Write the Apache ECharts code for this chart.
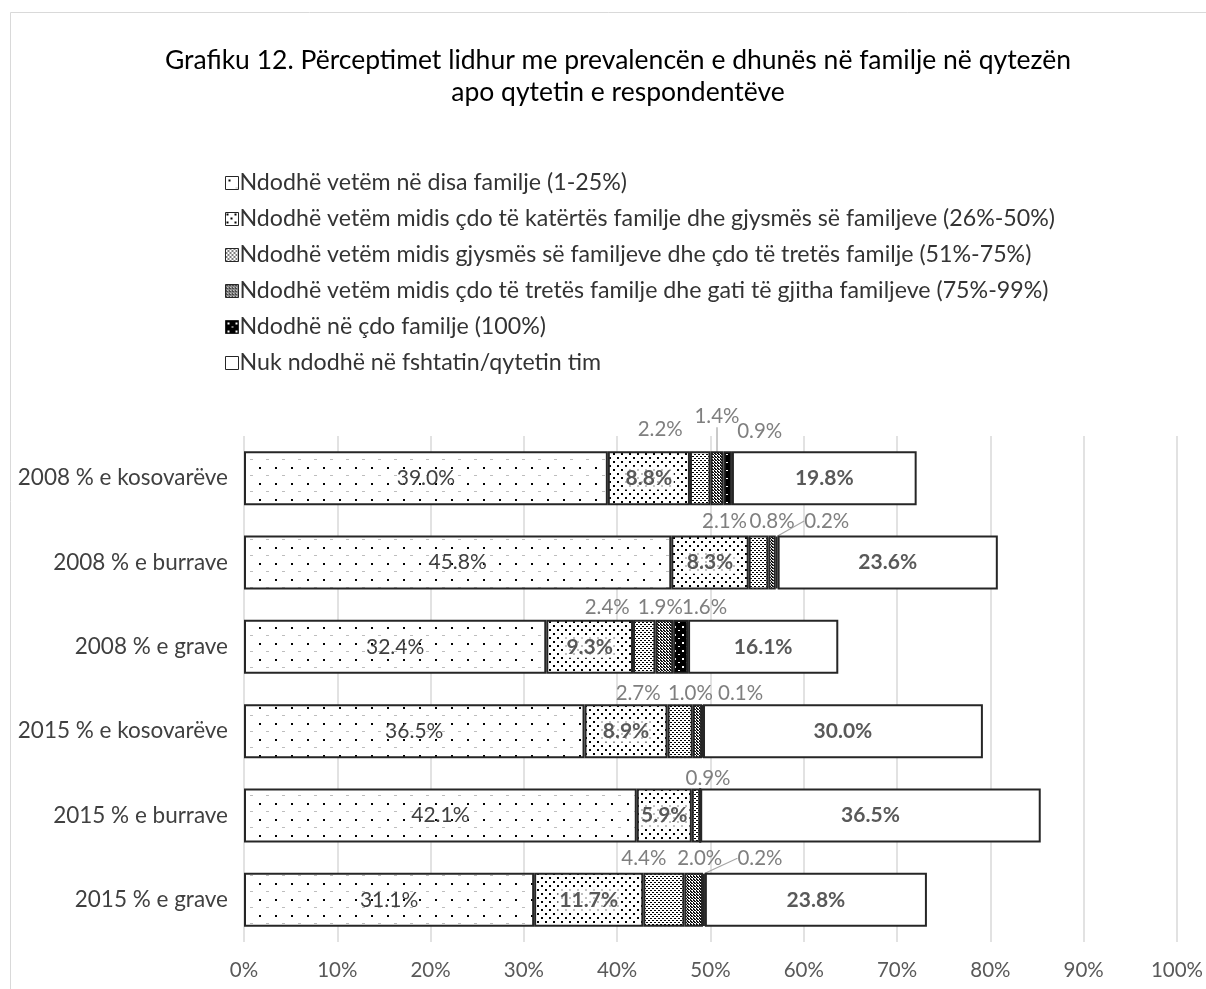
<!DOCTYPE html>
<html><head><meta charset="utf-8">
<script src="https://cdn.jsdelivr.net/npm/echarts@6/dist/echarts.min.js"></script>
<style>html,body{margin:0;padding:0;background:#fff}#c{width:1206px;height:989px}</style>
</head><body><div id="c"></div>
<script>
// ---------- DATA ----------
const categories = ['2008 % e kosovarëve', '2008 % e burrave', '2008 % e grave', '2015 % e kosovarëve', '2015 % e burrave', '2015 % e grave'];
const seriesNames = [
  'Ndodhë vetëm në disa familje (1-25%)',
  'Ndodhë vetëm midis çdo të katërtës familje dhe gjysmës së familjeve (26%-50%)',
  'Ndodhë vetëm midis gjysmës së familjeve dhe çdo të tretës familje (51%-75%)',
  'Ndodhë vetëm midis çdo të tretës familje dhe gati të gjitha familjeve (75%-99%)',
  'Ndodhë në çdo familje (100%)',
  'Nuk ndodhë në fshtatin/qytetin tim'
];
const vals1 = [39.0, 45.8, 32.4, 36.5, 42.1, 31.1];
const vals2 = [8.8, 8.3, 9.3, 8.9, 5.9, 11.7];
const vals3 = [2.2, 2.1, 2.4, 2.7, 0.9, 4.4];
const vals4 = [1.4, 0.8, 1.9, 1.0, 0, 2.0];
const vals5 = [0.9, 0.2, 1.6, 0.1, 0, 0.2];
const vals6 = [19.8, 23.6, 16.1, 30.0, 36.5, 23.8];
const xMin = 0, xMax = 100, xStep = 10;
const titleLines = ['Grafiku 12. Përceptimet lidhur me prevalencën e dhunës në familje në qytezën', 'apo qytetin e respondentëve'];

// ---------- STYLE ----------
const FONT = 'Lato, "Open Sans", sans-serif';
function pattern(w, h, draw) {
  const c = document.createElement('canvas');
  c.width = w; c.height = h;
  const g = c.getContext('2d');
  draw(g, w, h);
  return { image: c, repeat: 'repeat' };
}
const patterns = [
  pattern(16, 16, (g) => { g.fillStyle = '#fff'; g.fillRect(0, 0, 16, 16); g.fillStyle = '#000'; g.fillRect(3, 3, 2, 2); g.fillStyle = '#bdbdbd'; g.fillRect(10, 11, 3, 1); }),
  pattern(8, 8, (g) => { g.fillStyle = '#fff'; g.fillRect(0, 0, 8, 8); g.fillStyle = '#000'; g.fillRect(1, 1, 2, 2); g.fillRect(5, 5, 2, 2); }),
  pattern(4, 4, (g) => { g.fillStyle = '#fff'; g.fillRect(0, 0, 4, 4); g.fillStyle = '#000'; g.fillRect(0, 0, 2, 1); g.fillRect(2, 2, 2, 1); }),
  pattern(3, 3, (g) => { g.fillStyle = '#fff'; g.fillRect(0, 0, 3, 3); g.fillStyle = '#111'; g.fillRect(0, 0, 2, 1); g.fillRect(1, 1, 2, 1); g.fillRect(0, 2, 1, 1); }),
  pattern(8, 8, (g) => { g.fillStyle = '#000'; g.fillRect(0, 0, 8, 8); g.fillStyle = '#fff'; g.fillRect(2, 2, 2, 2); g.fillRect(6, 6, 2, 1); }),
  '#ffffff'
];
// label displacement for small outside labels (dx, dy) per row
const smallLabelShift = {
  2: [[-40, -7], [-34, 0], [-37, 2], [-42, 4], [12, 4], [-20, 0]],
  3: [[0, -20], [0, 0], [-4, 2], [-7, 4], [0, 0], [6, 0]],
  4: [[32, -5], [50, 0], [24, 2], [38, 4], [0, 0], [56, 0]]
};
const leaderLines = { 3: [0], 4: [1, 5] };

const allVals = [vals1, vals2, vals3, vals4, vals5, vals6];
const fmt = (p) => p.value.toFixed(1) + '%';

const series = allVals.map((vals, si) => {
  const small = si >= 2 && si <= 4;
  const s = {
    name: seriesNames[si],
    type: 'bar',
    stack: 'total',
    barWidth: 54,
    itemStyle: { color: patterns[si], borderColor: '#262626', borderWidth: 2 },
    data: vals.map((v, di) => ({
      value: v,
      label: { show: v > 0 },
      labelLine: { show: !!(leaderLines[si] && leaderLines[si].indexOf(di) >= 0) }
    })),
    label: small ? {
      show: true, position: 'top', distance: 4, formatter: fmt,
      color: '#7f7f7f', fontSize: 20.5, fontFamily: FONT
    } : {
      show: true, position: 'inside', formatter: fmt,
      color: si === 0 ? '#404040' : '#595959',
      fontWeight: si === 0 ? 'normal' : 'bold',
      fontSize: 21, fontFamily: FONT,
      backgroundColor: si === 1 ? 'rgba(255,255,255,0.75)' : 'transparent',
      padding: si === 1 ? [1, 2] : 0
    },
    labelLine: { show: false, lineStyle: { color: '#a6a6a6', width: 1.2 } },
    emphasis: { disabled: true }
  };
  if (small) {
    s.labelLayout = (params) => {
      const sh = smallLabelShift[si][params.dataIndex];
      return { dx: sh[0], dy: sh[1] };
    };
  }
  return s;
});

const chart = echarts.init(document.getElementById('c'), null, { renderer: 'canvas' });
chart.setOption({
  backgroundColor: '#ffffff',
  animation: false,
  textStyle: { fontFamily: FONT },
  graphic: [{
    type: 'rect', z: -10, silent: true,
    shape: { x: 10.5, y: 12.5, width: 1220, height: 1000 },
    style: { fill: 'none', stroke: '#d9d9d9', lineWidth: 1 }
  }, {
    type: 'text', silent: true,
    x: 618, y: 44,
    style: {
      text: titleLines.join('\n'),
      font: 'normal 26.5px ' + FONT,
      fill: '#000',
      align: 'center',
      lineHeight: 32
    }
  }],
  legend: {
    orient: 'vertical', left: 220, top: 166,
    itemWidth: 13, itemHeight: 13, itemGap: 12,
    icon: 'rect',
    itemStyle: { borderColor: '#262626', borderWidth: 1 },
    textStyle: { fontFamily: FONT, fontSize: 23.2, color: '#333333', lineHeight: 24, padding: [0, 0, 0, -4] },
    data: seriesNames
  },
  grid: { left: 244, right: 29, top: 436, bottom: 47, containLabel: false },
  xAxis: {
    type: 'value', min: xMin, max: xMax, interval: xStep,
    axisLabel: { formatter: '{value}%', color: '#595959', fontSize: 20.5, margin: 18, fontFamily: FONT },
    axisLine: { show: false }, axisTick: { show: false },
    splitLine: { lineStyle: { color: '#d9d9d9', width: 1.5 } }
  },
  yAxis: {
    type: 'category', inverse: true, data: categories,
    axisLabel: { color: '#404040', fontSize: 22.5, margin: 16, fontFamily: FONT },
    axisLine: { show: false }, axisTick: { show: false }
  },
  series: series
});
</script>
</body></html>
